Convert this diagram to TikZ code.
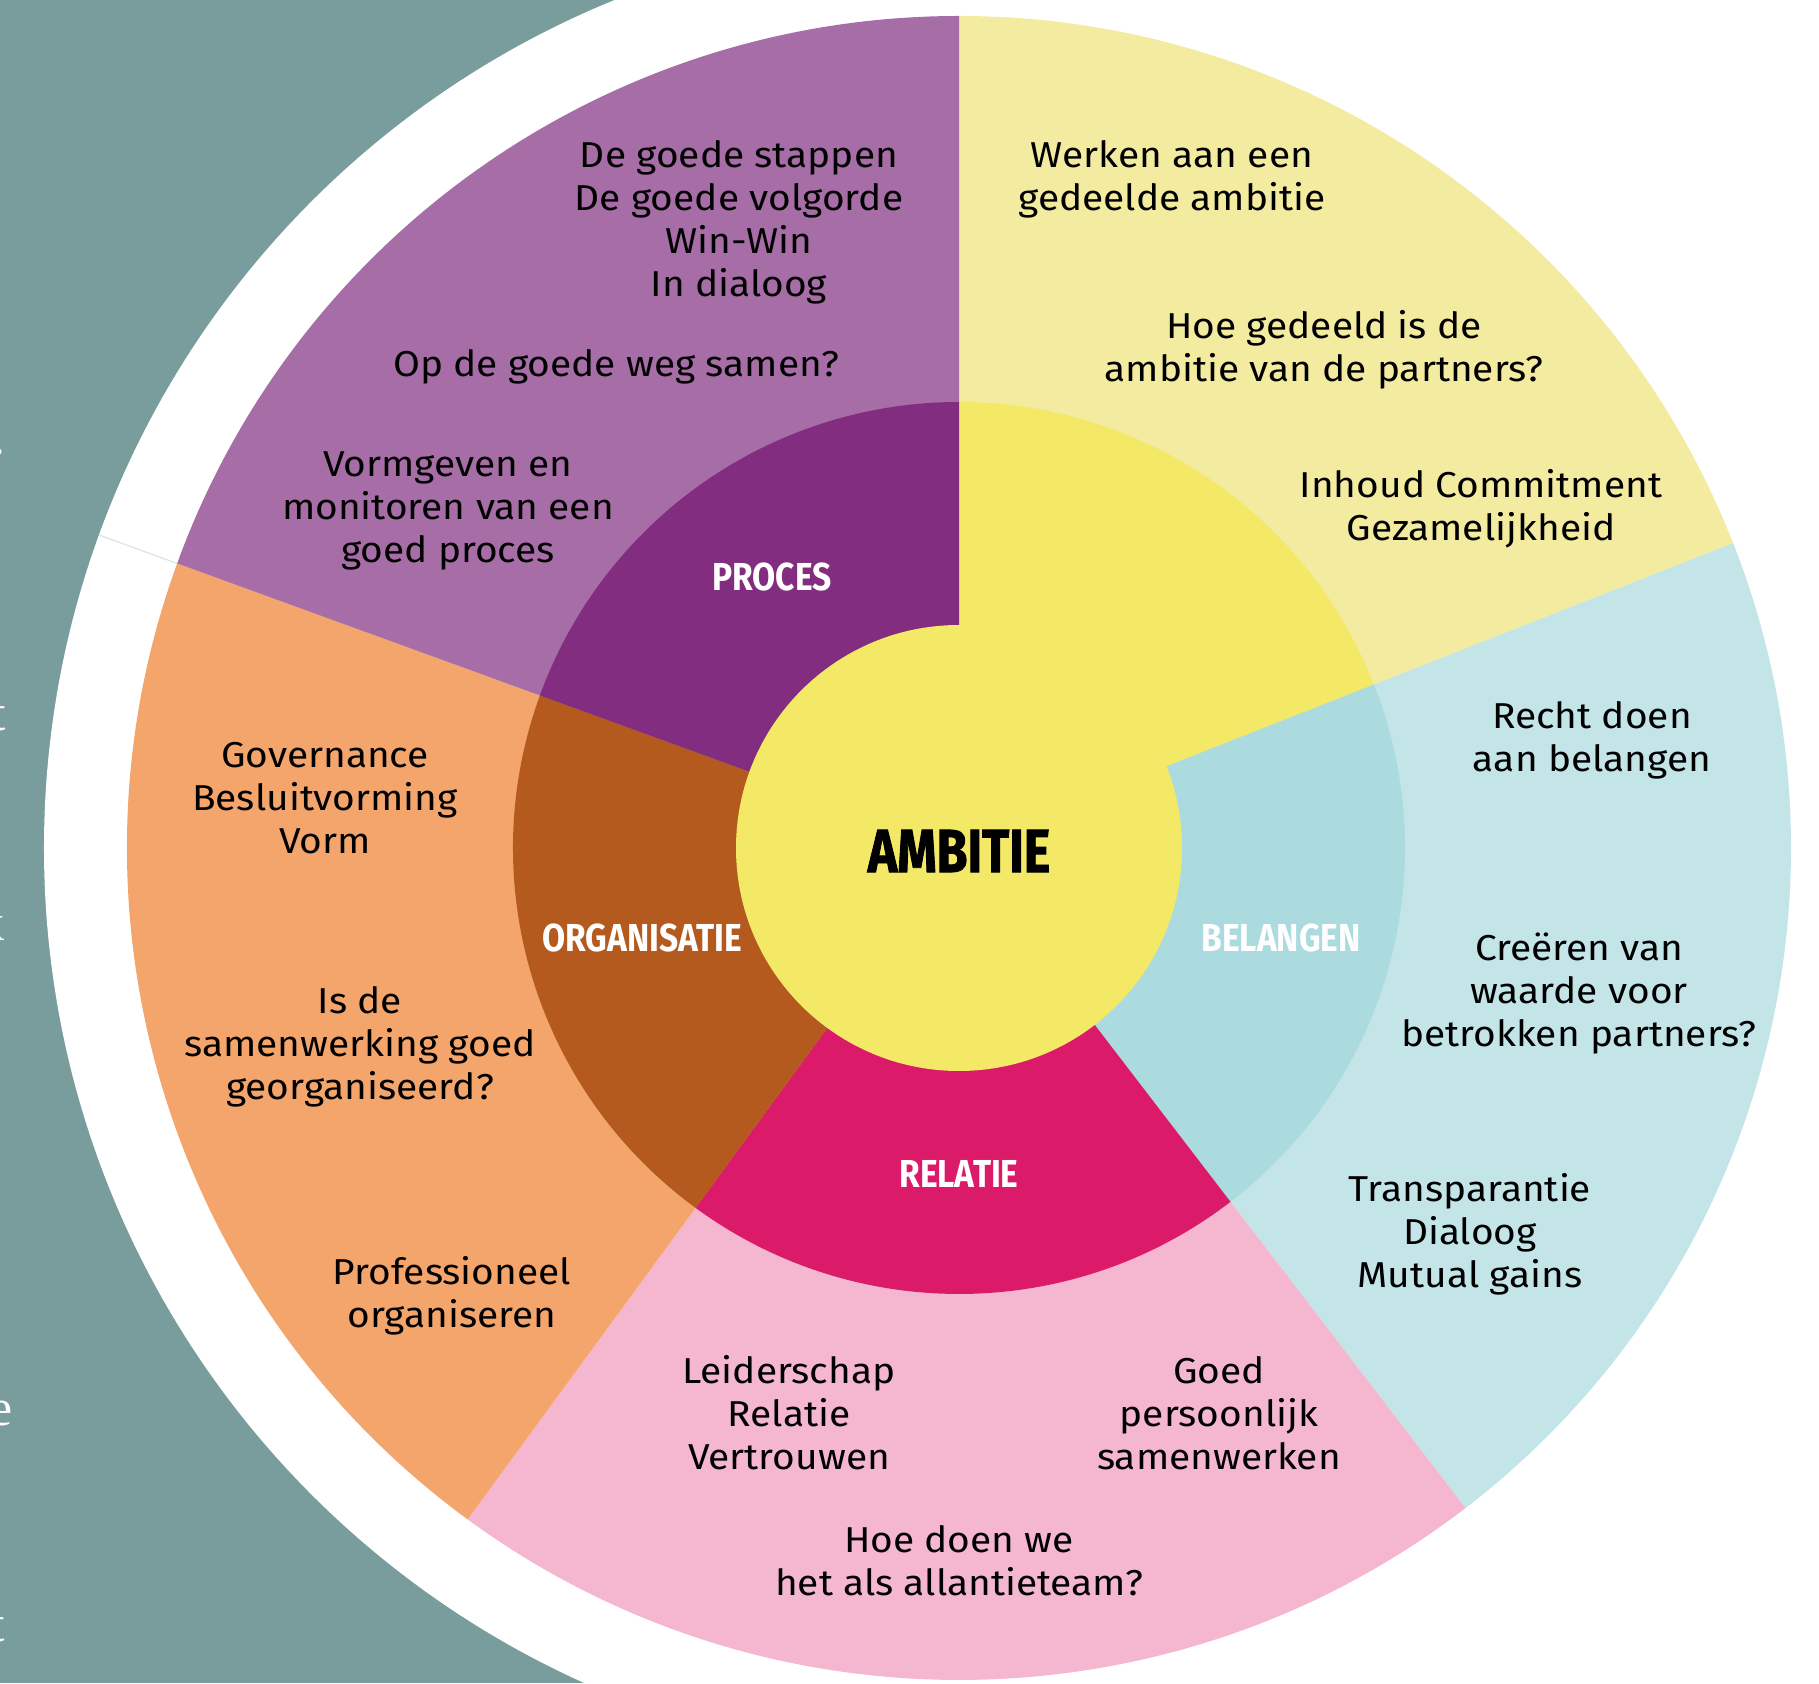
\documentclass[tikz,border=0pt]{standalone}
\usepackage{fontspec}
\setmainfont[FakeStretch=1.08]{Fira Sans}
\newfontfamily\labelfont[FakeStretch=0.86]{Fira Sans}
\newfontfamily\ambfont[FakeStretch=0.82,FakeBold=1.4]{Fira Sans}
\newfontfamily\serifedge{Liberation Serif}
\definecolor{tealbg}{RGB}{121,156,156}
\definecolor{seamc}{RGB}{214,230,230}
\definecolor{purO}{RGB}{167,109,166}
\definecolor{purI}{RGB}{130,45,127}
\definecolor{yelO}{RGB}{242,235,160}
\definecolor{yelI}{RGB}{244,233,103}
\definecolor{bluO}{RGB}{196,229,232}
\definecolor{bluI}{RGB}{171,218,223}
\definecolor{pinkO}{RGB}{244,183,207}
\definecolor{pinkI}{RGB}{219,26,105}
\definecolor{orO}{RGB}{244,165,108}
\definecolor{orI}{RGB}{181,90,30}
\begin{document}
\begin{tikzpicture}[x=1pt,y=1pt,
  body/.style={font=\fontsize{36}{43}\selectfont, align=center, text=black, inner sep=0pt},
  lab/.style={font=\labelfont\bfseries\fontsize{39}{39}\selectfont, text=white, inner sep=0pt},
  amb/.style={font=\ambfont\bfseries\fontsize{61}{61}\selectfont, text=black, inner sep=0pt},
  edgechar/.style={font=\serifedge\fontsize{52}{52}\selectfont, text=white, inner sep=0pt, anchor=base east}]
\fill[white] (-959,-835) rectangle (860,848);
\fill[tealbg] (-959,-835) rectangle (0,848);
\useasboundingbox (-959,-835) rectangle (860,848);
% stray white characters at the left edge
\node[edgechar] (e1) at (-953,393) {.};
\node[edgechar] (e2) at (-953,117) {t};
\node[edgechar] (e3) at (-954,-92) {k};
\node[edgechar] (e4) at (-946,-577) {e};
\node[edgechar] (e5) at (-954,-793) {t};
% white ring
\fill[white] (0,0) circle[radius=915];
\draw[seamc, line width=1.2pt] (160:832) -- (160:915);
% outer sectors
\fill[yelO] (0,0) -- (90:832) arc[start angle=90,end angle=21.5,radius=832] -- cycle;
\fill[bluO] (0,0) -- (21.5:832) arc[start angle=21.5,end angle=-52.5,radius=832] -- cycle;
\fill[pinkO] (0,0) -- (-52.5:832) arc[start angle=-52.5,end angle=-126.2,radius=832] -- cycle;
\fill[orO] (0,0) -- (-126.2:832) arc[start angle=-126.2,end angle=-200,radius=832] -- cycle;
\fill[purO] (0,0) -- (160:832) arc[start angle=160,end angle=90,radius=832] -- cycle;
% middle sectors
\fill[yelI] (0,0) -- (90:446) arc[start angle=90,end angle=21.5,radius=446] -- cycle;
\fill[bluI] (0,0) -- (21.5:446) arc[start angle=21.5,end angle=-52.5,radius=446] -- cycle;
\fill[pinkI] (0,0) -- (-52.5:446) arc[start angle=-52.5,end angle=-126.2,radius=446] -- cycle;
\fill[orI] (0,0) -- (-126.2:446) arc[start angle=-126.2,end angle=-200,radius=446] -- cycle;
\fill[purI] (0,0) -- (160:446) arc[start angle=160,end angle=90,radius=446] -- cycle;
% centre
\fill[yelI] (0,0) circle[radius=223];
% labels
\node[amb] (ambitie) at (0,-3) {AMBITIE};
\node[lab] (proces) at (-187,271) {PROCES};
\node[lab] (belangen) at (322,-90) {BELANGEN};
\node[lab] (organisatie) at (-317,-90) {ORGANISATIE};
\node[lab] (relatie) at (0,-326) {RELATIE};
% purple texts
\node[body] (p1) at (-220,626) {De goede stappen\\De goede volgorde\\Win-Win\\In dialoog};
\node[body] (p2) at (-343,481) {Op de goede weg samen?};
\node[body] (p3) at (-511,337) {Vormgeven en\\monitoren van een\\goed proces};
% yellow texts
\node[body] (y1) at (213,669) {Werken aan een\\gedeelde ambitie};
\node[body] (y2) at (365,498) {Hoe gedeeld is de\\ambitie van de partners?};
\node[body] (y3) at (522,339) {Inhoud Commitment\\Gezamelijkheid};
% blue texts
\node[body] (b1) at (633,108) {Recht doen\\aan belangen};
\node[body] (b2) at (620,-146) {Creëren van\\waarde voor\\betrokken partners?};
\node[body] (b3) at (511,-386) {Transparantie\\Dialoog\\Mutual gains};
% pink texts
\node[body] (r1) at (-170,-565) {Leiderschap\\Relatie\\Vertrouwen};
\node[body] (r2) at (260,-565) {Goed\\persoonlijk\\samenwerken};
\node[body] (r3) at (0,-713) {Hoe doen we\\het als allantieteam?};
% orange texts
\node[body] (o1) at (-634,50) {Governance\\Besluitvorming\\Vorm};
\node[body] (o2) at (-599,-199) {Is de\\samenwerking goed\\georganiseerd?};
\node[body] (o3) at (-507,-448) {Professioneel\\organiseren};
\end{tikzpicture}
\end{document}
